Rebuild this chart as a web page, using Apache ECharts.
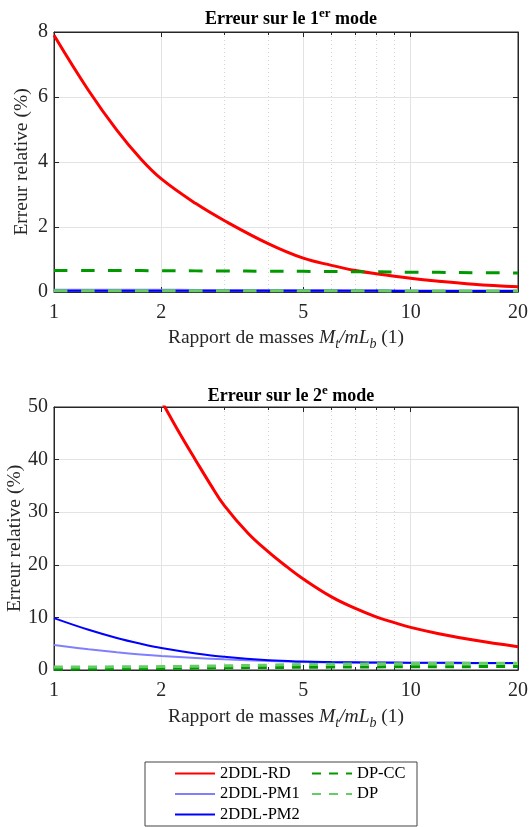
<!DOCTYPE html>
<html><head><meta charset="utf-8">
<script src="https://cdn.jsdelivr.net/npm/echarts@6/dist/echarts.min.js"></script>
<style>html,body{margin:0;padding:0;background:#fff}#c{width:529px;height:827px}</style>
</head><body><div id="c"></div>
<script>
// ---- data ----
const xTicks = [1, 2, 5, 10, 20];
const xMinor = [3, 4, 6, 7, 8, 9];
const xs = [1, 1.25, 1.5, 1.75, 2, 2.5, 3, 4, 5, 6, 7, 8, 10, 12, 15, 20];
// mode 1
const m1RD   = [7.9, 6.2, 4.98, 4.1, 3.48, 2.72, 2.2, 1.48, 1.04, 0.82, 0.66, 0.56, 0.42, 0.33, 0.24, 0.16];
const m1PM1  = [0.07, 0.07, 0.07, 0.07, 0.07, 0.065, 0.065, 0.06, 0.06, 0.06, 0.055, 0.055, 0.05, 0.05, 0.05, 0.05];
const m1PM2  = [0.04, 0.04, 0.04, 0.04, 0.04, 0.04, 0.04, 0.04, 0.035, 0.035, 0.035, 0.035, 0.03, 0.03, 0.03, 0.03];
const m1DPCC = [0.665, 0.663, 0.66, 0.658, 0.655, 0.65, 0.645, 0.64, 0.635, 0.63, 0.625, 0.62, 0.61, 0.605, 0.595, 0.585];
const m1DP   = [0.04, 0.04, 0.04, 0.04, 0.04, 0.04, 0.04, 0.04, 0.035, 0.035, 0.035, 0.035, 0.03, 0.03, 0.03, 0.03];
// mode 2
const m2RDx  = [2, 2.25, 2.5, 2.75, 3, 3.5, 4, 4.5, 5, 6, 7, 8, 9, 10, 12, 15, 20];
const m2RD   = [51.2, 45.0, 39.8, 35.2, 31.3, 26.0, 22.4, 19.6, 17.3, 13.9, 11.7, 10.1, 9.0, 8.1, 6.9, 5.7, 4.43];
const m2PM1  = [4.75, 3.95, 3.37, 2.95, 2.66, 2.3, 2.03, 1.7, 1.52, 1.44, 1.39, 1.36, 1.33, 1.31, 1.29, 1.27];
const m2PM2  = [9.87, 7.65, 6.1, 5.0, 4.18, 3.15, 2.5, 1.85, 1.6, 1.5, 1.45, 1.42, 1.39, 1.37, 1.35, 1.33];
const m2DPCC = [0.15, 0.18, 0.22, 0.26, 0.3, 0.36, 0.42, 0.48, 0.52, 0.55, 0.57, 0.59, 0.61, 0.62, 0.64, 0.65];
const m2DP   = [0.55, 0.57, 0.6, 0.62, 0.65, 0.72, 0.8, 0.93, 1.03, 1.1, 1.14, 1.18, 1.22, 1.25, 1.28, 1.3];
const names = ['2DDL-RD', '2DDL-PM1', '2DDL-PM2', 'DP-CC', 'DP'];

// ---- styling ----
const FONT = 'Liberation Serif';
const AX = '#262626';
const GRIDC = '#e3e3e3';
const styles = [
  {color: '#ff0000', width: 3, dashed: false},
  {color: '#8080ff', width: 2, dashed: false},
  {color: '#0000ff', width: 2, dashed: false},
  {color: '#009900', width: 3, dashed: true},
  {color: '#66cc66', width: 3, dashed: true}
];
const pair = (x, y) => x.map((v, i) => [v, y[i]]);

const grids = [
  {left: 54, right: 11, top: 32, height: 260, show: true, borderColor: AX, borderWidth: 1, backgroundColor: '#fff', containLabel: false, outerBoundsMode: 'none'},
  {left: 54, right: 11, top: 407, height: 263, show: true, borderColor: AX, borderWidth: 1, backgroundColor: '#fff', containLabel: false, outerBoundsMode: 'none'}
];

const xName = {
  rich: {
    n: {fontFamily: FONT, fontSize: 19.5, color: AX, lineHeight: 26, verticalAlign: 'middle'},
    i: {fontFamily: FONT, fontSize: 19.5, color: AX, fontStyle: 'italic', lineHeight: 26, verticalAlign: 'middle'},
    s: {fontFamily: FONT, fontSize: 14, color: AX, fontStyle: 'italic', lineHeight: 12, verticalAlign: 'bottom'}
  }
};
const xNameText = '{n|Rapport de masses }{i|M}{s|t}{i|/mL}{s|b}{n| (1)}';

function xAxesFor(g, gap) {
  const base = {type: 'log', logBase: 10, min: 1, max: 20, gridIndex: g};
  return [
    Object.assign({}, base, {
      position: 'bottom',
      axisLine: {show: true, lineStyle: {color: AX, width: 1}},
      axisTick: {show: true, inside: true, length: 5, customValues: xTicks, lineStyle: {color: AX}},
      axisLabel: {show: true, customValues: xTicks, color: AX, fontFamily: FONT, fontSize: 20, margin: 11,
        formatter: v => String(Math.round(v))},
      splitLine: {show: true, lineStyle: {color: GRIDC, width: 1}},
      name: xNameText, nameLocation: 'middle', nameGap: gap, nameMoveOverlap: false, nameTextStyle: xName
    }),
    Object.assign({}, base, {
      position: 'bottom',
      axisLine: {show: false},
      axisTick: {show: true, inside: true, length: 3, customValues: xMinor, lineStyle: {color: AX}},
      axisLabel: {show: false},
      splitLine: {show: true, lineStyle: {color: '#d6d6d6', width: 1, type: [1, 3]}}
    }),
    Object.assign({}, base, {
      position: 'top',
      axisLine: {show: true, lineStyle: {color: AX, width: 1}},
      axisTick: {show: true, inside: true, length: 5, customValues: xTicks, lineStyle: {color: AX}},
      axisLabel: {show: false},
      splitLine: {show: false}
    }),
    Object.assign({}, base, {
      position: 'top',
      axisLine: {show: false},
      axisTick: {show: true, inside: true, length: 3, customValues: xMinor, lineStyle: {color: AX}},
      axisLabel: {show: false},
      splitLine: {show: false}
    })
  ];
}

function yAxesFor(g, max, interval, gap) {
  return [
    {type: 'value', gridIndex: g, min: 0, max: max, interval: interval, position: 'left',
      axisLine: {show: true, lineStyle: {color: AX}},
      axisTick: {show: true, inside: true, length: 5, lineStyle: {color: AX}},
      axisLabel: {color: AX, fontFamily: FONT, fontSize: 20, margin: 6},
      splitLine: {show: true, lineStyle: {color: GRIDC, width: 1}},
      name: 'Erreur relative (%)', nameLocation: 'middle', nameGap: gap, nameMoveOverlap: false,
      nameTextStyle: {fontFamily: FONT, fontSize: 19.5, color: AX}
    },
    {type: 'value', gridIndex: g, min: 0, max: max, interval: interval, position: 'right',
      axisLine: {show: true, lineStyle: {color: AX}},
      axisTick: {show: true, inside: true, length: 5, lineStyle: {color: AX}},
      axisLabel: {show: false},
      splitLine: {show: false}
    }
  ];
}

function mk(name, idx, data, xi, yi, dash) {
  const s = styles[idx];
  return {
    name: name, type: 'line', xAxisIndex: xi, yAxisIndex: yi, data: data,
    symbol: 'none', showSymbol: false, smooth: 0.4, clip: true,
    lineStyle: {color: s.color, width: s.width, type: s.dashed ? dash : 'solid'},
    itemStyle: {color: s.color},
    animation: false
  };
}

const dashTop = [13.5, 13.5];
const dashBottom = [9, 8];
const series = [
  mk(names[0], 0, pair(xs, m1RD), 0, 0, dashTop),
  mk(names[1], 1, pair(xs, m1PM1), 0, 0, dashTop),
  mk(names[2], 2, pair(xs, m1PM2), 0, 0, dashTop),
  mk(names[3], 3, pair(xs, m1DPCC), 0, 0, dashTop),
  mk(names[4], 4, pair(xs, m1DP), 0, 0, dashTop),
  mk(names[0], 0, pair(m2RDx, m2RD), 4, 2, dashBottom),
  mk(names[1], 1, pair(xs, m2PM1), 4, 2, dashBottom),
  mk(names[2], 2, pair(xs, m2PM2), 4, 2, dashBottom),
  mk(names[3], 3, pair(xs, m2DPCC), 4, 2, dashBottom),
  mk(names[4], 4, pair(xs, m2DP), 4, 2, dashBottom)
];

const titleRich = {
  b: {fontFamily: FONT, fontSize: 18, fontWeight: 'bold', color: '#000', lineHeight: 24, verticalAlign: 'middle'},
  sup: {fontFamily: FONT, fontSize: 13, fontWeight: 'bold', color: '#000', lineHeight: 12, verticalAlign: 'top'}
};

const legendPos = [[174, 774], [174, 794.5], [174, 815], [311, 774], [311, 794.5]];
const legends = names.map((n, i) => ({
  orient: 'vertical', itemWidth: 40, itemHeight: 14, padding: 0,
  left: legendPos[i][0], top: legendPos[i][1] - 9,
  data: [n],
  itemStyle: {opacity: 0, borderWidth: 0},
  lineStyle: {type: styles[i].dashed ? dashBottom : 'solid'},
  textStyle: {fontFamily: FONT, fontSize: 16.5, color: '#000'}
}));

const option = {
  animation: false,
  backgroundColor: '#fff',
  title: [
    {text: '{b|Erreur sur le 1}{sup|er}{b| mode}', left: 286, top: 2, textAlign: 'center', textStyle: {rich: titleRich}},
    {text: '{b|Erreur sur le 2}{sup|e}{b| mode}', left: 286, top: 379, textAlign: 'center', textStyle: {rich: titleRich}}
  ],
  grid: grids,
  xAxis: [].concat(xAxesFor(0, 33), xAxesFor(1, 34)),
  yAxis: [].concat(yAxesFor(0, 8, 2, 22), yAxesFor(1, 50, 10, 29)),
  legend: legends,
  graphic: [
    {type: 'rect', shape: {x: 145, y: 762, width: 272, height: 64}, style: {fill: '#fff', stroke: '#444', lineWidth: 1}, z: 0, silent: true}
  ],
  series: series
};

const chart = echarts.init(document.getElementById('c'), null, {renderer: 'canvas'});
chart.setOption(option);
</script>
</body></html>
